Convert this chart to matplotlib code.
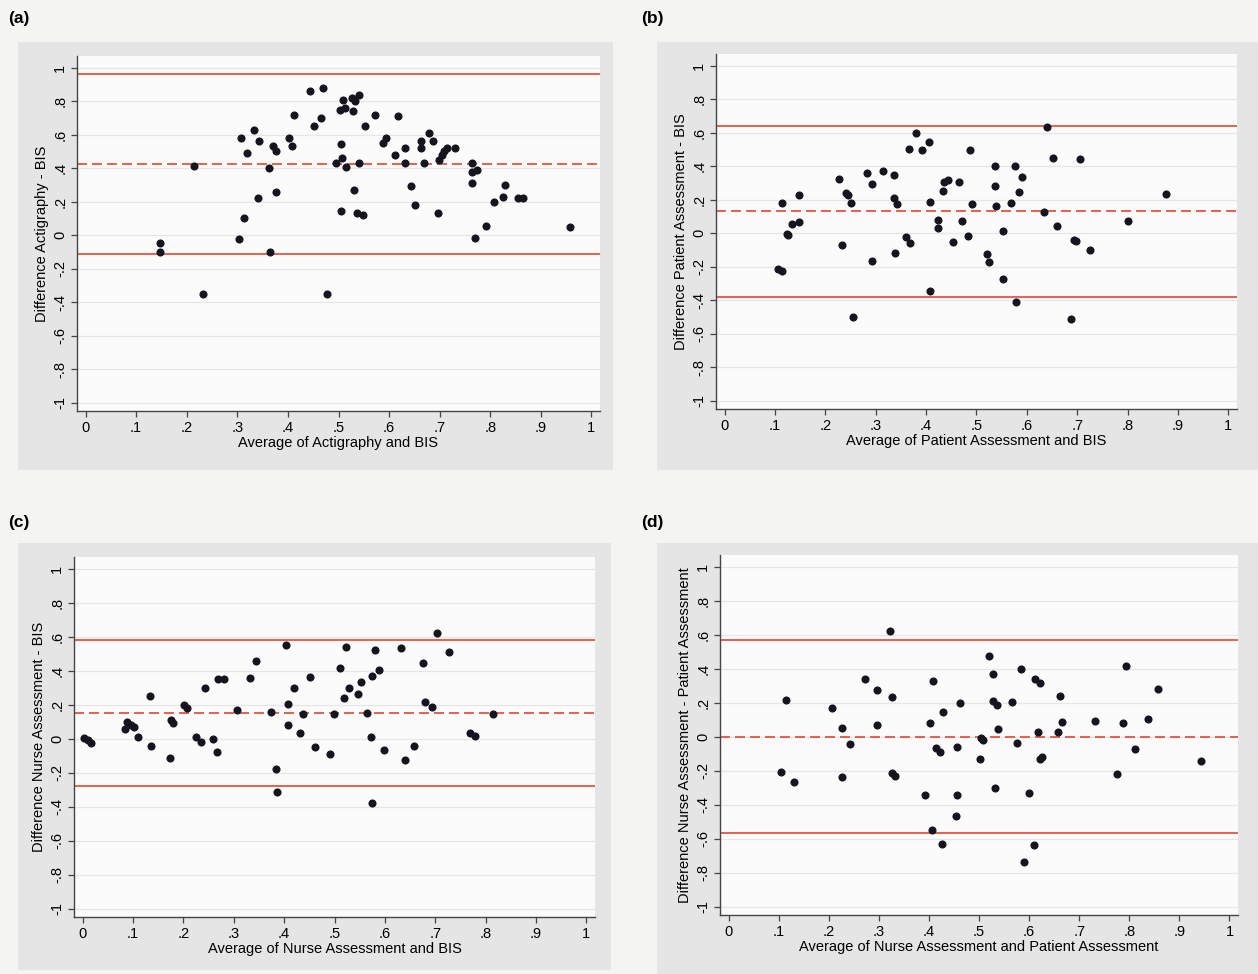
import matplotlib.pyplot as plt
from matplotlib.patches import Rectangle

plt.rcParams['font.family'] = ['Liberation Sans', 'DejaVu Sans']

# (a) Actigraphy vs BIS
a_x = [0.148, 0.148, 0.214, 0.232, 0.303, 0.307, 0.314, 0.319, 0.333, 0.341, 0.343, 0.363, 0.365,
       0.370, 0.376, 0.377, 0.403, 0.408, 0.412, 0.443, 0.452, 0.466, 0.469, 0.477, 0.496, 0.502,
       0.504, 0.506, 0.504, 0.509, 0.512, 0.514, 0.526, 0.528, 0.531, 0.533, 0.537, 0.541, 0.541,
       0.548, 0.552, 0.573, 0.587, 0.593, 0.611, 0.618, 0.631, 0.632, 0.643, 0.652, 0.663, 0.664,
       0.669, 0.678, 0.686, 0.697, 0.699, 0.704, 0.708, 0.715, 0.731, 0.763, 0.763, 0.764, 0.769,
       0.774, 0.792, 0.807, 0.825, 0.830, 0.855, 0.865, 0.957]
a_y = [-0.046, -0.10, 0.414, -0.35, -0.02, 0.58, 0.10, 0.49, 0.63, 0.22, 0.56, 0.40, -0.10,
       0.53, 0.50, 0.255, 0.58, 0.53, 0.72, 0.86, 0.65, 0.70, 0.88, -0.35, 0.43, 0.75,
       0.545, 0.46, 0.145, 0.81, 0.76, 0.405, 0.82, 0.74, 0.27, 0.80, 0.13, 0.43, 0.84,
       0.12, 0.65, 0.72, 0.55, 0.58, 0.48, 0.71, 0.52, 0.43, 0.295, 0.18, 0.56, 0.52,
       0.43, 0.61, 0.56, 0.13, 0.45, 0.48, 0.50, 0.52, 0.52, 0.43, 0.38, 0.31, -0.016,
       0.39, 0.054, 0.20, 0.225, 0.30, 0.22, 0.22, 0.05]
a_lines = [0.425, 0.965, -0.115]   # mean, upper, lower

# (b) Patient assessment vs BIS
b_x = [0.107, 0.113, 0.114, 0.123, 0.125, 0.133, 0.147, 0.148, 0.228, 0.233, 0.241, 0.245, 0.251,
       0.254, 0.282, 0.292, 0.293, 0.314, 0.337, 0.337, 0.338, 0.342, 0.361, 0.367, 0.368, 0.379,
       0.391, 0.406, 0.407, 0.407, 0.423, 0.423, 0.433, 0.436, 0.443, 0.454, 0.466, 0.471, 0.484,
       0.488, 0.492, 0.520, 0.524, 0.536, 0.537, 0.539, 0.553, 0.552, 0.568, 0.577, 0.579, 0.584,
       0.591, 0.634, 0.639, 0.651, 0.659, 0.687, 0.693, 0.698, 0.705, 0.725, 0.800, 0.877]
b_y = [-0.213, -0.227, 0.18, -0.004, -0.008, 0.056, 0.23, 0.066, 0.325, -0.068, 0.24, 0.23, 0.18,
       -0.50, 0.36, 0.295, -0.167, 0.37, 0.345, 0.21, -0.12, 0.175, -0.024, 0.504, -0.058, 0.60,
       0.494, 0.544, -0.343, 0.187, 0.076, 0.03, 0.253, 0.305, 0.315, -0.054, 0.305, 0.074, -0.014,
       0.494, 0.175, -0.124, -0.173, 0.402, 0.281, 0.161, 0.01, -0.273, 0.181, 0.40, -0.41, 0.245,
       0.335, 0.127, 0.633, 0.45, 0.04, -0.514, -0.038, -0.048, 0.44, -0.098, 0.07, 0.231]
b_lines = [0.13, 0.64, -0.38]

# (c) Nurse assessment vs BIS
c_x = [0.002, 0.010, 0.016, 0.085, 0.089, 0.096, 0.102, 0.111, 0.133, 0.136, 0.173, 0.176, 0.180,
       0.201, 0.208, 0.225, 0.235, 0.242, 0.259, 0.267, 0.269, 0.280, 0.307, 0.333, 0.345, 0.373,
       0.384, 0.385, 0.404, 0.407, 0.408, 0.420, 0.431, 0.438, 0.451, 0.461, 0.492, 0.499, 0.511,
       0.519, 0.522, 0.529, 0.547, 0.553, 0.564, 0.573, 0.574, 0.575, 0.581, 0.588, 0.598, 0.632,
       0.640, 0.658, 0.675, 0.680, 0.693, 0.703, 0.728, 0.769, 0.779, 0.815]
c_y = [0.004, -0.008, -0.024, 0.059, 0.10, 0.08, 0.07, 0.01, 0.249, -0.043, -0.112, 0.108, 0.094,
       0.196, 0.182, 0.008, -0.02, 0.30, -0.002, -0.078, 0.349, 0.349, 0.169, 0.357, 0.457, 0.159,
       -0.176, -0.312, 0.553, 0.206, 0.078, 0.30, 0.035, 0.147, 0.365, -0.049, -0.092, 0.143, 0.418,
       0.239, 0.541, 0.30, 0.265, 0.333, 0.149, 0.008, 0.369, -0.376, 0.522, 0.404, -0.065, 0.535,
       -0.127, -0.043, 0.447, 0.216, 0.186, 0.62, 0.512, 0.035, 0.014, 0.143]
c_lines = [0.15, 0.58, -0.28]

# (d) Nurse assessment vs patient assessment
d_x = [0.104, 0.114, 0.131, 0.207, 0.227, 0.227, 0.242, 0.273, 0.297, 0.297, 0.323, 0.327, 0.327,
       0.332, 0.392, 0.402, 0.408, 0.407, 0.415, 0.422, 0.426, 0.428, 0.454, 0.456, 0.457, 0.462,
       0.502, 0.504, 0.508, 0.519, 0.527, 0.528, 0.531, 0.536, 0.537, 0.566, 0.575, 0.583, 0.590,
       0.600, 0.610, 0.612, 0.618, 0.621, 0.622, 0.626, 0.657, 0.661, 0.666, 0.731, 0.775, 0.787,
       0.793, 0.811, 0.837, 0.857, 0.943]
d_y = [-0.205, 0.215, -0.268, 0.170, 0.049, -0.235, -0.045, 0.342, 0.274, 0.068, 0.622, 0.231, -0.215,
       -0.229, -0.346, 0.078, 0.329, -0.552, -0.068, -0.09, -0.63, 0.147, -0.466, -0.059, -0.342, 0.20,
       -0.131, -0.006, -0.02, 0.474, 0.368, 0.209, -0.303, 0.186, 0.047, 0.205, -0.035, 0.401, -0.74,
       -0.329, -0.638, 0.342, 0.025, 0.319, -0.131, -0.117, 0.025, 0.239, 0.086, 0.094, -0.221, 0.082,
       0.419, -0.072, 0.104, 0.282, -0.141]
d_lines = [0.0, 0.57, -0.57]

x_ticks = [0, 0.1, 0.2, 0.3, 0.4, 0.5, 0.6, 0.7, 0.8, 0.9, 1]
x_labels = ['0', '.1', '.2', '.3', '.4', '.5', '.6', '.7', '.8', '.9', '1']
y_ticks = [-1, -0.8, -0.6, -0.4, -0.2, 0, 0.2, 0.4, 0.6, 0.8, 1]
y_labels = ['-1', '-.8', '-.6', '-.4', '-.2', '0', '.2', '.4', '.6', '.8', '1']

W, H = 1258, 974
fig = plt.figure(figsize=(W / 100, H / 100), dpi=100)
fig.patch.set_facecolor('#f4f4f2')

RED = '#e2472f'


def px_box(x0, y0, x1, y1):
    # pixel box (top-left origin) -> figure fraction [l, b, w, h]
    return [x0 / W, 1 - y1 / H, (x1 - x0) / W, (y1 - y0) / H]


def panel(box, grey, tag, tag_xy, xs, ys, lines, xlabel, ylabel):
    g = px_box(*grey)
    fig.patches.append(Rectangle((g[0], g[1]), g[2], g[3], transform=fig.transFigure,
                                 facecolor='#e5e5e5', edgecolor='none', zorder=-5))
    fig.text(tag_xy[0] / W, 1 - tag_xy[1] / H, tag, fontsize=12.5, fontweight='bold',
             va='center', ha='left')
    ax = fig.add_axes(px_box(*box))
    ax.set_facecolor('#fbfbfb')
    ax.set_xlim(-0.017, 1.017)
    ax.set_ylim(-1.05, 1.07)
    for yt in y_ticks:
        ax.axhline(yt, color='#e6e6e6', lw=0.9, zorder=0.5)
    ax.axhline(lines[0], color=RED, lw=1.2, ls=(0, (6, 3)), zorder=1)
    ax.axhline(lines[1], color=RED, lw=1.2, zorder=1)
    ax.axhline(lines[2], color=RED, lw=1.2, zorder=1)
    ax.scatter(xs, ys, s=34, color='#15151f', zorder=3, linewidths=0)
    for side in ['top', 'right']:
        ax.spines[side].set_visible(False)
    for side in ['left', 'bottom']:
        ax.spines[side].set_color('#444444')
        ax.spines[side].set_linewidth(1.0)
    ax.set_xticks(x_ticks)
    ax.set_xticklabels(x_labels, fontsize=10.5)
    ax.set_yticks(y_ticks)
    ax.set_yticklabels(y_labels, fontsize=10.5, rotation=90, va='center')
    ax.tick_params(direction='out', length=4, width=0.9, color='#444444', pad=3)
    ax.set_xlabel(xlabel, fontsize=10.5, labelpad=1)
    ax.set_ylabel(ylabel, fontsize=10.5, labelpad=3)
    return ax


panel((77, 56, 600, 411), (18, 42, 613, 470), '(a)', (8, 18), a_x, a_y, a_lines,
      'Average of Actigraphy and BIS', 'Difference Actigraphy - BIS')
panel((716, 54, 1237, 409), (657, 42, 1258, 470), '(b)', (641, 18), b_x, b_y, b_lines,
      'Average of Patient Assessment and BIS', 'Difference Patient Assessment - BIS')
panel((74, 557, 595, 917), (18, 543, 611, 970), '(c)', (8, 522), c_x, c_y, c_lines,
      'Average of Nurse Assessment and BIS', 'Difference Nurse Assessment - BIS')
panel((720, 555, 1238, 915), (657, 543, 1258, 974), '(d)', (641, 522), d_x, d_y, d_lines,
      'Average of Nurse Assessment and Patient Assessment',
      'Difference Nurse Assessment - Patient Assessment')

fig.savefig('out.png', dpi=100, facecolor=fig.get_facecolor())
